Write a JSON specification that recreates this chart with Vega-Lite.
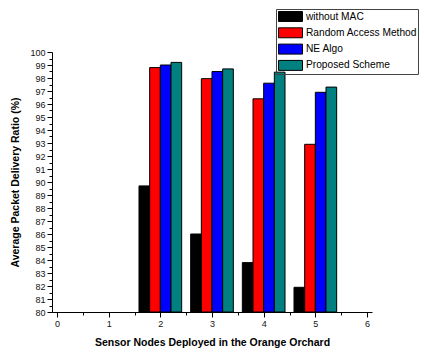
{
  "$schema": "https://vega.github.io/schema/vega-lite/v6.json",
  "width": 320,
  "height": 260,
  "autosize": "none",
  "padding": {"left": 52, "top": 52, "right": 52, "bottom": 40},
  "background": "white",
  "config": {
    "font": "Liberation Sans",
    "view": {"stroke": null},
    "axis": {"domainColor": "black", "tickColor": "black", "labelColor": "#111", "titleColor": "black", "grid": false}
  },
  "data": {"values": [
    {"nodes": 2, "series": "without MAC", "pdr": 89.7},
    {"nodes": 2, "series": "Random Access Method", "pdr": 98.8},
    {"nodes": 2, "series": "NE Algo", "pdr": 99.0},
    {"nodes": 2, "series": "Proposed Scheme", "pdr": 99.2},
    {"nodes": 3, "series": "without MAC", "pdr": 86.0},
    {"nodes": 3, "series": "Random Access Method", "pdr": 97.95},
    {"nodes": 3, "series": "NE Algo", "pdr": 98.5},
    {"nodes": 3, "series": "Proposed Scheme", "pdr": 98.7},
    {"nodes": 4, "series": "without MAC", "pdr": 83.8},
    {"nodes": 4, "series": "Random Access Method", "pdr": 96.4},
    {"nodes": 4, "series": "NE Algo", "pdr": 97.6},
    {"nodes": 4, "series": "Proposed Scheme", "pdr": 98.45},
    {"nodes": 5, "series": "without MAC", "pdr": 81.9},
    {"nodes": 5, "series": "Random Access Method", "pdr": 92.9},
    {"nodes": 5, "series": "NE Algo", "pdr": 96.9},
    {"nodes": 5, "series": "Proposed Scheme", "pdr": 97.3}
  ]},
  "encoding": {
    "x": {
      "field": "nodes", "type": "quantitative",
      "scale": {"domain": [0, 6], "nice": false, "zero": false},
      "axis": {
        "title": "Sensor Nodes Deployed in the Orange Orchard",
        "values": [0, 0.5, 1, 1.5, 2, 2.5, 3, 3.5, 4, 4.5, 5, 5.5, 6],
        "labelExpr": "datum.value % 1 === 0 ? format(datum.value, 'd') : ''",
        "labelOverlap": false, "labelFlush": false,
        "tickSize": {"condition": {"test": "datum.value % 1 === 0", "value": 5}, "value": 3},
        "labelFontSize": 9, "labelPadding": 2,
        "titleFontSize": 10.5, "titleFontWeight": "bold", "titlePadding": 9
      }
    },
    "y": {
      "field": "pdr", "type": "quantitative",
      "scale": {"domain": [80, 100], "nice": false, "zero": false},
      "axis": {
        "title": "Average Packet Delivery Ratio (%)",
        "values": [80, 80.5, 81, 81.5, 82, 82.5, 83, 83.5, 84, 84.5, 85, 85.5, 86, 86.5, 87, 87.5, 88, 88.5, 89, 89.5, 90, 90.5, 91, 91.5, 92, 92.5, 93, 93.5, 94, 94.5, 95, 95.5, 96, 96.5, 97, 97.5, 98, 98.5, 99, 99.5, 100],
        "labelExpr": "datum.value % 1 === 0 ? format(datum.value, 'd') : ''",
        "labelOverlap": false, "labelFlush": false,
        "tickSize": {"condition": {"test": "datum.value % 1 === 0", "value": 5}, "value": 3},
        "labelFontSize": 9, "labelPadding": 2,
        "titleFontSize": 10.5, "titleFontWeight": "bold", "titlePadding": 9
      }
    },
    "y2": {"datum": 80},
    "color": {
      "field": "series", "type": "nominal",
      "scale": {
        "domain": ["without MAC", "Random Access Method", "NE Algo", "Proposed Scheme"],
        "range": ["#000000", "#ff0000", "#0000ff", "#008080"]
      },
      "legend": {
        "title": null,
        "orient": "none",
        "legendX": 224,
        "legendY": -43,
        "symbolType": "M-2,-0.83H2V0.83H-2Z",
        "symbolSize": 144,
        "symbolOffset": 7,
        "symbolStrokeColor": "black",
        "symbolStrokeWidth": 1,
        "labelFontSize": 10.2,
        "labelColor": "black",
        "labelOffset": 9,
        "rowPadding": 1.3,
        "strokeColor": "#444",
        "padding": 1,
        "labelLimit": 300
      }
    }
  },
  "layer": [
    {"transform": [{"filter": "datum.series === 'without MAC'"}], "mark": {"type": "bar", "size": 10.67, "xOffset": -16, "stroke": "black", "strokeWidth": 1}},
    {"transform": [{"filter": "datum.series === 'Random Access Method'"}], "mark": {"type": "bar", "size": 10.67, "xOffset": -5.33, "stroke": "black", "strokeWidth": 1}},
    {"transform": [{"filter": "datum.series === 'NE Algo'"}], "mark": {"type": "bar", "size": 10.67, "xOffset": 5.33, "stroke": "black", "strokeWidth": 1}},
    {"transform": [{"filter": "datum.series === 'Proposed Scheme'"}], "mark": {"type": "bar", "size": 10.67, "xOffset": 16, "stroke": "black", "strokeWidth": 1}}
  ]
}
